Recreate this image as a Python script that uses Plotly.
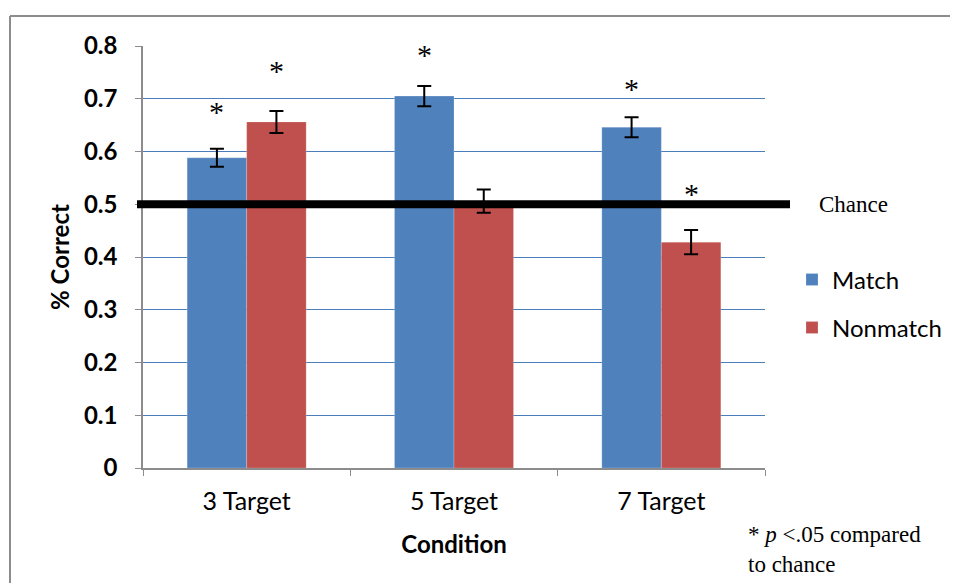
import plotly.graph_objects as go

categories = ["3 Target", "5 Target", "7 Target"]
match_vals = [0.588, 0.705, 0.646]
nonmatch_vals = [0.656, 0.506, 0.428]
match_err = [0.017, 0.019, 0.019]
nonmatch_err = [0.021, 0.022, 0.023]
chance_level = 0.5
# significance stars: (category, series, y position)
stars = [("3 Target", "Match", 0.675), ("3 Target", "Nonmatch", 0.753),
         ("5 Target", "Match", 0.783), ("7 Target", "Match", 0.720),
         ("7 Target", "Nonmatch", 0.521)]
y_ticks = [0, 0.1, 0.2, 0.3, 0.4, 0.5, 0.6, 0.7, 0.8]
y_ticklabels = ["0", "0.1", "0.2", "0.3", "0.4", "0.5", "0.6", "0.7", "0.8"]

BLUE = "#4F81BD"
RED = "#C0504D"
SANS = "Lato, Carlito, 'Open Sans', sans-serif"
SERIF = "'Liberation Serif', 'Times New Roman', serif"

fig = go.Figure()
fig.add_trace(go.Bar(
    x=categories, y=match_vals, name="Match", marker_color=BLUE,
    marker_line=dict(color="rgba(255,255,255,0.4)", width=0.5),
    error_y=dict(type="data", array=match_err, color="black", thickness=2, width=7),
    legend="legend", showlegend=True))
fig.add_trace(go.Bar(
    x=categories, y=nonmatch_vals, name="Nonmatch", marker_color=RED,
    marker_line=dict(color="rgba(255,255,255,0.4)", width=0.5),
    error_y=dict(type="data", array=nonmatch_err, color="black", thickness=2, width=7),
    legend="legend2", showlegend=True))

# page has an 8px body margin; plot area sits at absolute pixels x 143..765, y 46..468
OFF = 8
FW, FH = 958 - OFF, 583 - OFF
PL, PR, PT, PB = 143, 765, 46, 468
L, T = PL - OFF, PT - OFF
R, B = 958 - PR, 583 - PB
W = PR - PL
H = PB - PT
def px(x):
    return (x - PL) / W
def py(y):
    return (PB - y) / H
def cx(x):
    return (x - OFF) / FW
def cy(y):
    return 1 - (y - OFF) / FH

shapes = [
    # chance line
    dict(type="line", xref="paper", yref="y", x0=px(137), x1=px(790),
         y0=chance_level, y1=chance_level, line=dict(color="black", width=8), layer="above"),
    # outer border (left and top)
    dict(type="line", xref="paper", yref="paper", x0=px(10), x1=px(10),
         y0=py(600), y1=py(16), line=dict(color="#8C8C8C", width=2)),
    dict(type="line", xref="paper", yref="paper", x0=px(10), x1=px(980),
         y0=py(16), y1=py(16), line=dict(color="#8C8C8C", width=2)),
]

annotations = []
group_px = 119
for cat, ser, yv in stars:
    shift = -group_px / 4 if ser == "Match" else group_px / 4
    annotations.append(dict(x=cat, y=yv, xref="x", yref="y", text="*", showarrow=False,
                            xshift=shift, font=dict(family=SERIF, size=30, color="black")))
annotations.append(dict(x=px(817), y=chance_level, xref="paper", yref="y", text="Chance",
                        showarrow=False, xanchor="left", yanchor="middle",
                        font=dict(family=SERIF, size=23, color="black")))
annotations.append(dict(x=px(746), y=py(520), xref="paper", yref="paper",
                        text="* <i>p</i> &lt;.05 compared<br>to chance", align="left",
                        showarrow=False, xanchor="left", yanchor="top",
                        font=dict(family=SERIF, size=23, color="black")))

fig.update_layout(
    width=FW, height=FH,
    margin=dict(l=L, r=R, t=T, b=B, autoexpand=False),
    paper_bgcolor="white", plot_bgcolor="white",
    barmode="group", bargap=0.426, bargroupgap=0,
    shapes=shapes, annotations=annotations,
    showlegend=True,
    font=dict(family=SANS, color="black"),
    legend=dict(xref="container", yref="container", x=cx(792), y=cy(280),
                xanchor="left", yanchor="middle", itemwidth=30,
                font=dict(family=SANS, size=24), bgcolor="rgba(0,0,0,0)"),
    legend2=dict(xref="container", yref="container", x=cx(792), y=cy(328),
                 xanchor="left", yanchor="middle", itemwidth=30,
                 font=dict(family=SANS, size=24), bgcolor="rgba(0,0,0,0)"),
    xaxis=dict(
        showline=True, linecolor="#8C8C8C", linewidth=1.5,
        ticks="outside", tickson="boundaries", ticklen=6, tickcolor="#8C8C8C",
        tickfont=dict(family=SANS, size=25), ticklabelstandoff=10,
        title=dict(text="<b>Condition</b>", font=dict(family=SANS, size=24), standoff=22),
        showgrid=False),
    yaxis=dict(
        range=[0, 0.8], tickvals=y_ticks, ticktext=[f"<b>{t}</b>" for t in y_ticklabels],
        showline=True, linecolor="#8C8C8C", linewidth=1.5,
        ticks="outside", ticklen=6, tickcolor="#8C8C8C",
        tickfont=dict(family=SANS, size=24), ticklabelstandoff=13,
        showgrid=True, gridcolor="#4A7EBB", gridwidth=1.3, zeroline=False,
        title=dict(text="<b>% Correct</b>", font=dict(family=SANS, size=24), standoff=8)),
)

fig.write_html("out.html")
